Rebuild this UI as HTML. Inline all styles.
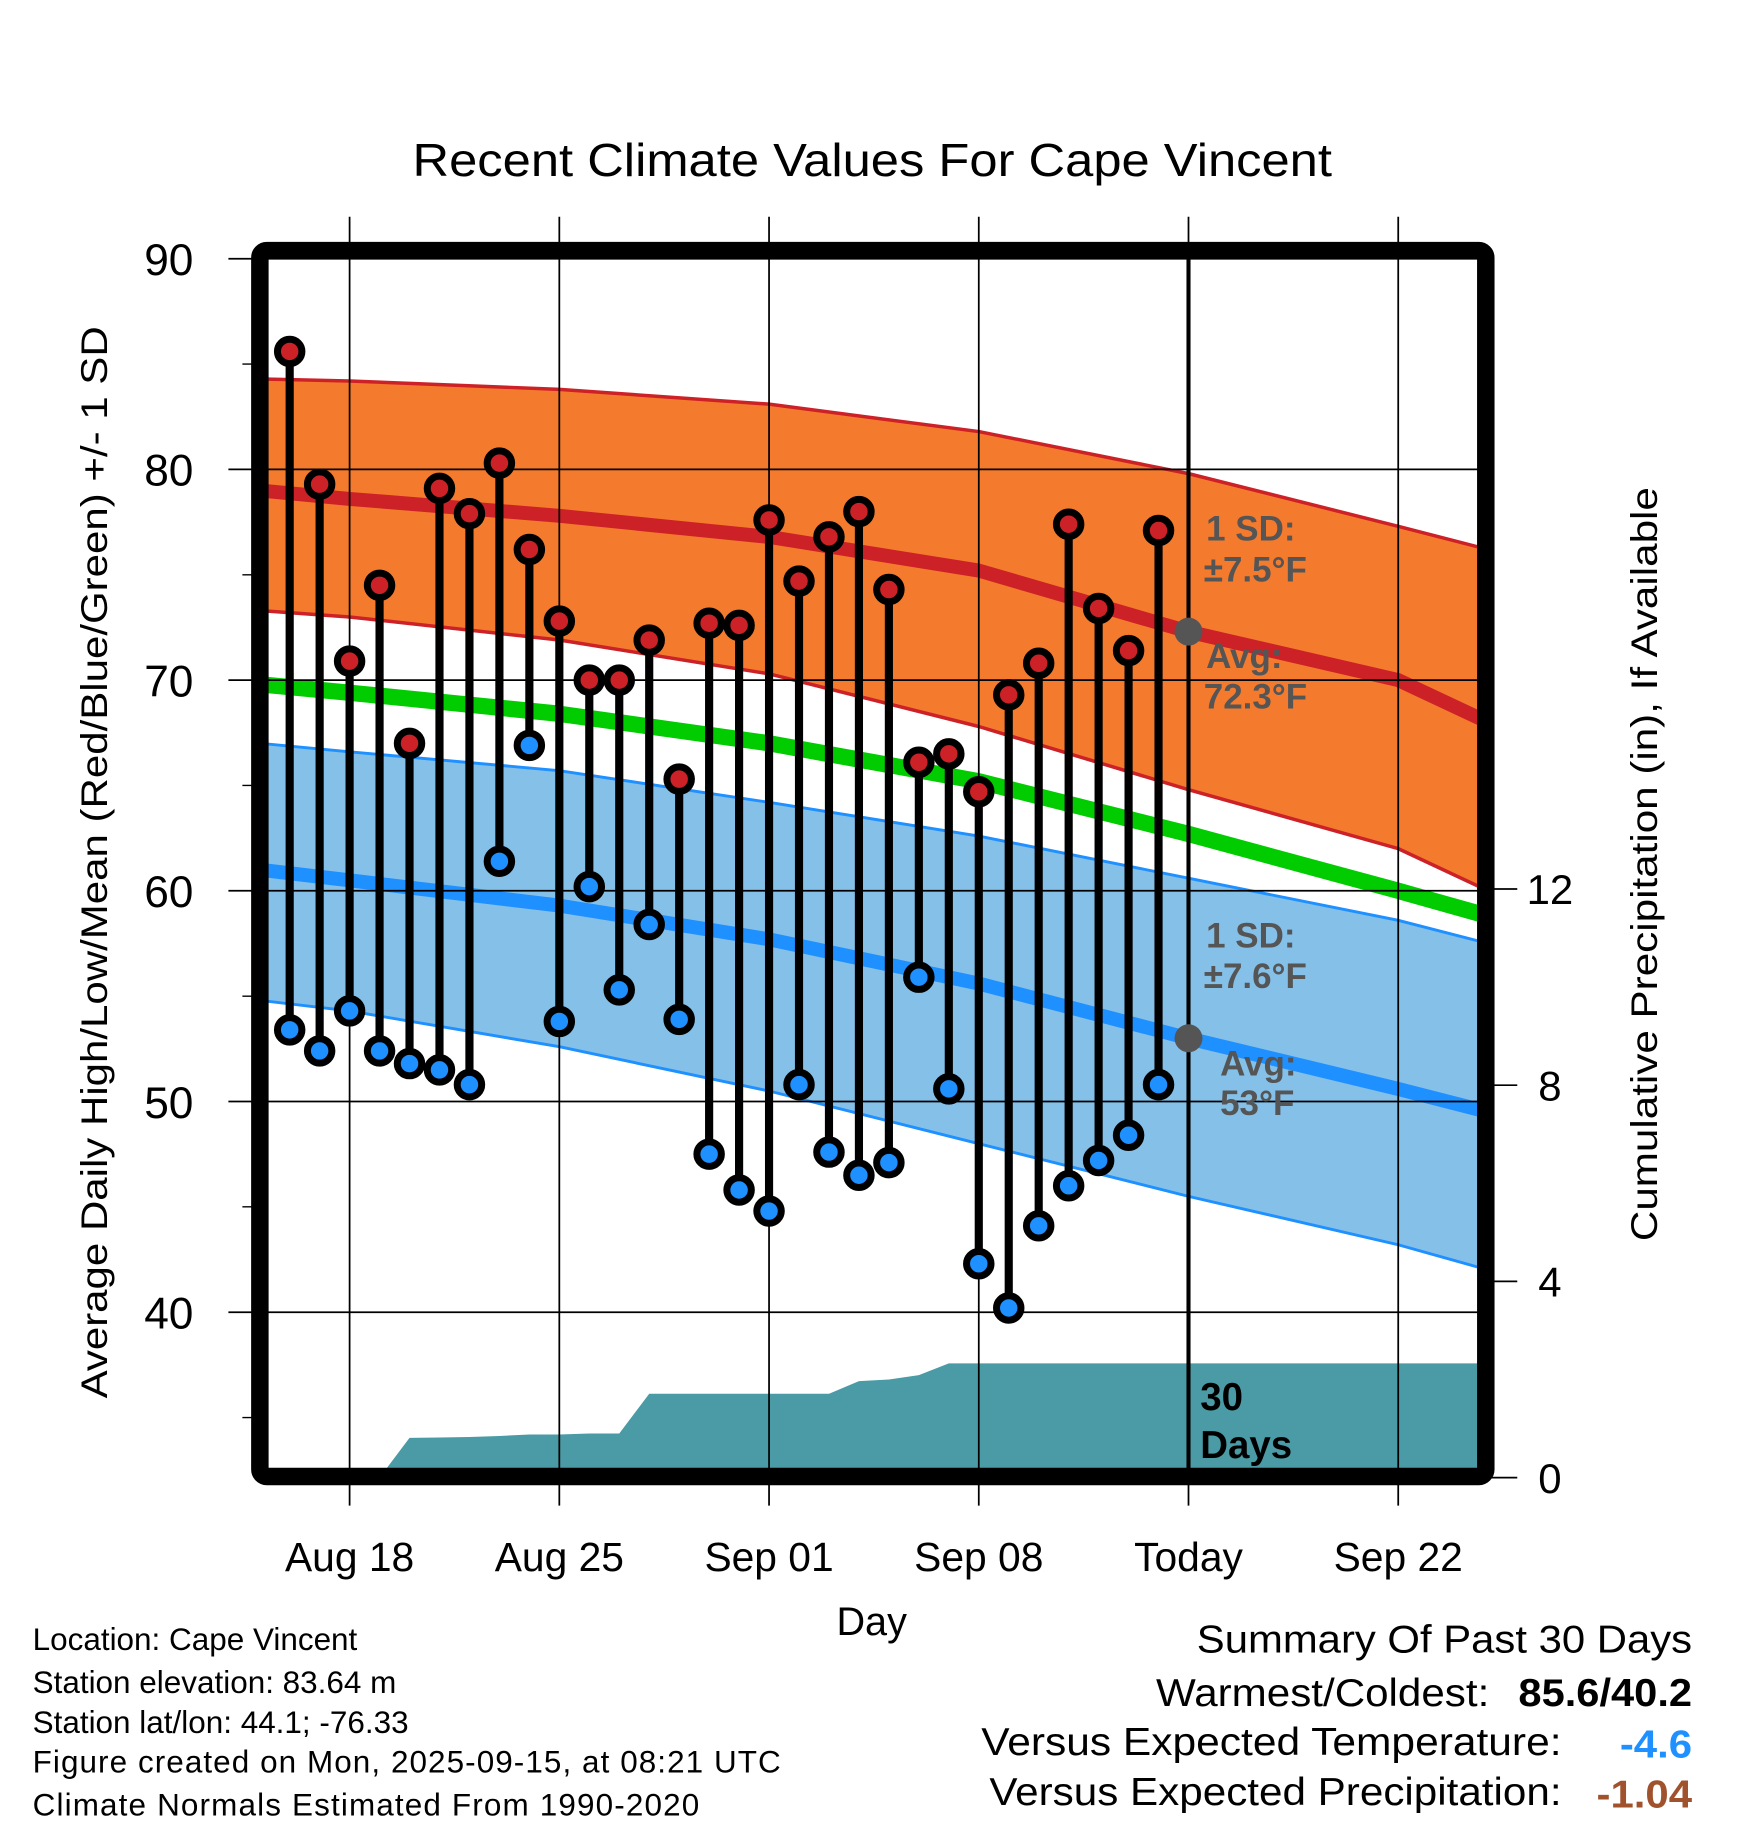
<!DOCTYPE html>
<html><head><meta charset="utf-8"><style>
html,body{margin:0;padding:0;background:#fff}
svg{display:block;font-family:"Liberation Sans",sans-serif}
</style></head><body>
<svg id="chart" width="1748" height="1828" viewBox="0 0 1500 1568.6" xmlns="http://www.w3.org/2000/svg">
<defs><clipPath id="pc"><rect x="230" y="222" width="1038" height="1038"/></clipPath></defs>
<g id="bands" clip-path="url(#pc)"></g>
<g id="grid"></g>
<g id="marks"></g>
<g id="frame"></g>
<g id="labels"></g>
</svg>
<script>
const days = ["Aug16","Aug17","Aug18","Aug19","Aug20","Aug21","Aug22","Aug23","Aug24","Aug25","Aug26","Aug27","Aug28","Aug29","Aug30","Aug31","Sep01","Sep02","Sep03","Sep04","Sep05","Sep06","Sep07","Sep08","Sep09","Sep10","Sep11","Sep12","Sep13","Sep14"];
const highs = [85.6,79.3,70.9,74.5,67.0,79.1,77.9,80.3,76.2,72.8,70.0,70.0,71.9,65.3,72.7,72.6,77.6,74.7,76.8,78.0,74.3,66.1,66.5,64.7,69.3,70.8,77.4,73.4,71.4,77.1];
const lows = [53.4,52.4,54.3,52.4,51.8,51.5,50.8,61.4,66.9,53.8,60.2,55.3,58.4,53.9,47.5,45.8,44.8,50.8,47.6,46.5,47.1,55.9,50.6,42.3,40.2,44.1,46.0,47.2,48.4,50.8];
const precip = [0,0,0,0,0.81,0.82,0.83,0.85,0.88,0.88,0.9,0.9,1.71,1.71,1.71,1.71,1.71,1.71,1.71,1.97,2.0,2.09,2.33,2.33,2.33,2.33,2.33,2.33,2.33,2.33];
const normDays = [-3,0,7,14,21,28,35,38];
const highMean = [79.0,78.6,77.8,76.8,75.2,72.3,70.0,68.0];
const highUpper = [84.3,84.2,83.8,83.1,81.8,79.8,77.3,76.2];
const highLower = [73.3,73.0,71.9,70.3,67.8,64.8,62.0,60.0];
const meanTemp = [69.8,69.4,68.4,67.0,65.2,62.7,60.0,58.8];
const lowUpper = [67.0,66.6,65.7,64.2,62.6,60.6,58.6,57.5];
const lowMean = [61.0,60.5,59.3,57.7,55.6,53.0,50.6,49.5];
const lowLower = [54.8,54.3,52.6,50.5,48.0,45.5,43.2,42.0];
const xTickLabels = ["Aug 18","Aug 25","Sep 01","Sep 08","Today","Sep 22"];
const xTickDays = [0,7,14,21,28,35];
const yTicks = [40,50,60,70,80,90];
const pTicks = [0,4,8,12];

const NS="http://www.w3.org/2000/svg";
const xs = d => 300 + 25.71*d;
const ys = v => 222 + (90 - v)*18.08;
const ps = p => 1268 - p*42.1;
function mk(parent, tag, attrs, text){
  const e=document.createElementNS(NS,tag);
  for(const k in attrs) e.setAttribute(k,attrs[k]);
  if(text!==undefined) e.textContent=text;
  document.getElementById(parent).appendChild(e);
  return e;
}
const line = arr => normDays.map((d,i)=>xs(d).toFixed(1)+","+ys(arr[i]).toFixed(1));
const band = (a,b) => line(a).concat(line(b).reverse()).join(" ");

let e;
e=mk("bands","polygon",{points:band(highUpper,highLower),fill:"#f47a2e"});


e=mk("bands","polyline",{points:line(highUpper).join(" "),fill:"none",stroke:"#cc2127","stroke-width":3,"stroke-linejoin":"round"});


e=mk("bands","polyline",{points:line(highLower).join(" "),fill:"none",stroke:"#cc2127","stroke-width":3,"stroke-linejoin":"round"});


e=mk("bands","polygon",{points:band(lowUpper,lowLower),fill:"#85c0e8"});


e=mk("bands","polyline",{points:line(lowUpper).join(" "),fill:"none",stroke:"#1e90ff","stroke-width":2.5,"stroke-linejoin":"round"});


e=mk("bands","polyline",{points:line(lowLower).join(" "),fill:"none",stroke:"#1e90ff","stroke-width":2.5,"stroke-linejoin":"round"});


e=mk("bands","polyline",{points:line(highMean).join(" "),fill:"none",stroke:"#cc2127","stroke-width":12,"stroke-linejoin":"round"});


e=mk("bands","polyline",{points:line(meanTemp).join(" "),fill:"none",stroke:"#00cc00","stroke-width":14,"stroke-linejoin":"round"});


e=mk("bands","polyline",{points:line(lowMean).join(" "),fill:"none",stroke:"#1e90ff","stroke-width":12,"stroke-linejoin":"round"});


let pp=[xs(-2)+","+ps(0)];
precip.forEach((p,i)=>pp.push(xs(i-2).toFixed(1)+","+ps(p).toFixed(1)));
pp.push("1270,"+ps(precip[precip.length-1]).toFixed(1));
pp.push("1270,1270");pp.push("228,1270");pp.push("228,"+ps(0));
e=mk("bands","polygon",{points:pp.join(" "),fill:"#4a9ba5"});



yTicks.forEach(v=>{
  e=mk("grid","line",{x1:196,x2:1268,y1:ys(v),y2:ys(v),stroke:"#000","stroke-width":1.5});
  
  
  e=mk("labels","text",{x:166,y:ys(v)+14,"text-anchor":"end","font-size":38},String(v));
  
  
});
[35,45,55,65,75,85].forEach(v=>{
  e=mk("grid","line",{x1:208,x2:230,y1:ys(v),y2:ys(v),stroke:"#000","stroke-width":1.2});
  
  
});
xTickDays.forEach((d,i)=>{
  e=mk("grid","line",{x1:xs(d),x2:xs(d),y1:186,y2:1292,stroke:"#000","stroke-width":1.5});
  
  
  e=mk("labels","text",{x:xs(d),y:1348,"text-anchor":"middle","font-size":35},xTickLabels[i]);
  
  
});
pTicks.forEach(p=>{
  e=mk("grid","line",{x1:1275,x2:1302,y1:ps(p),y2:ps(p),stroke:"#000","stroke-width":1.5});
  
  
  e=mk("labels","text",{x:1330,y:ps(p)+13,"text-anchor":"middle","font-size":36},String(p));
  
  
});
e=mk("grid","line",{x1:xs(28),x2:xs(28),y1:222,y2:1262,stroke:"#000","stroke-width":3.5});



days.forEach((d,i)=>{
  const x=xs(i-2);
  e=mk("marks","line",{x1:x,x2:x,y1:ys(highs[i]),y2:ys(lows[i]),stroke:"#000","stroke-width":7});
  
  
  e=mk("marks","circle",{cx:x,cy:ys(highs[i]),r:10.5,fill:"#cc2127",stroke:"#000","stroke-width":6});
  
  
  e=mk("marks","circle",{cx:x,cy:ys(lows[i]),r:10.5,fill:"#1e90ff",stroke:"#000","stroke-width":6});
  
  
});
e=mk("marks","circle",{cx:xs(28),cy:ys(highMean[5]),r:12,fill:"#555"});


e=mk("marks","circle",{cx:xs(28),cy:ys(lowMean[5]),r:12,fill:"#555"});



e=mk("frame","rect",{x:223,y:215,width:1052,height:1052,fill:"none",stroke:"#000","stroke-width":15,rx:6});



const ann=[["1 SD:",1035,464,"#555"],["±7.5°F",1033,499,"#555"],["Avg:",1035,573,"#555"],["72.3°F",1033,608,"#555"],
["1 SD:",1035,813,"#555"],["±7.6°F",1033,848,"#555"],["Avg:",1047,923,"#555"],["53°F",1047,957,"#555"],
["30",1030,1210,"#000"],["Days",1030,1251,"#000"]];
ann.forEach(a=>{
  e=mk("labels","text",{x:a[1],y:a[2],"font-size":a[3]=="#000"?33:30,"font-weight":"bold",fill:a[3]},a[0]);
  
  
});
</script>
<svg style="position:absolute;left:0;top:0" width="1748" height="1828" viewBox="0 0 1500 1568.6" xmlns="http://www.w3.org/2000/svg" font-family="Liberation Sans, sans-serif">
<text x="354" y="151" font-size="40" textLength="789" lengthAdjust="spacingAndGlyphs">Recent Climate Values For Cape Vincent</text>
<text transform="translate(92,1200) rotate(-90)" font-size="32" textLength="920" lengthAdjust="spacingAndGlyphs">Average Daily High/Low/Mean (Red/Blue/Green) +/- 1 SD</text>
<text transform="translate(1422,1065) rotate(-90)" font-size="32" textLength="647" lengthAdjust="spacingAndGlyphs">Cumulative Precipitation (in), If Available</text>
<text x="748" y="1403" text-anchor="middle" font-size="34">Day</text>
<g font-size="27">
<text x="28" y="1416">Location: Cape Vincent</text>
<text x="28" y="1453">Station elevation: 83.64 m</text>
<text x="28" y="1487">Station lat/lon: 44.1; -76.33</text>
<text x="28" y="1521" textLength="642">Figure created on Mon, 2025-09-15, at 08:21 UTC</text>
<text x="28" y="1558" textLength="572">Climate Normals Estimated From 1990-2020</text>
</g>
<g font-size="33">
<text x="1027" y="1418" textLength="425" lengthAdjust="spacingAndGlyphs">Summary Of Past 30 Days</text>
<text x="992" y="1464" textLength="286" lengthAdjust="spacingAndGlyphs">Warmest/Coldest:</text>
<text x="1303" y="1464" font-weight="bold" textLength="149" lengthAdjust="spacingAndGlyphs">85.6/40.2</text>
<text x="842" y="1506" textLength="498" lengthAdjust="spacingAndGlyphs">Versus Expected Temperature:</text>
<text x="1390" y="1508" font-weight="bold" fill="#1e90ff" textLength="62" lengthAdjust="spacingAndGlyphs">-4.6</text>
<text x="849" y="1549" textLength="491" lengthAdjust="spacingAndGlyphs">Versus Expected Precipitation:</text>
<text x="1370" y="1551" font-weight="bold" fill="#a0522d" textLength="82" lengthAdjust="spacingAndGlyphs">-1.04</text>
</g>
</svg>
</body></html>
